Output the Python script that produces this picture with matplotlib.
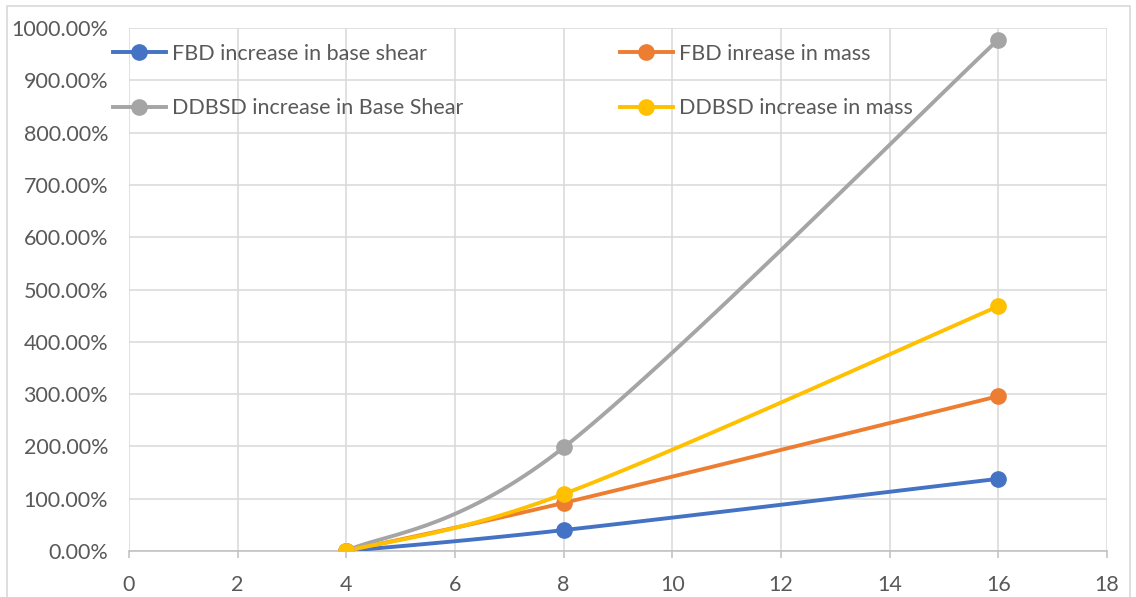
import numpy as np
import matplotlib.pyplot as plt
from matplotlib.lines import Line2D
from matplotlib.patches import Rectangle
from matplotlib.ticker import FuncFormatter, MultipleLocator

plt.rcParams['font.family'] = ['Lato', 'DejaVu Sans']

# storeys vs. percentage increase
storeys = [4, 8, 16]
fbd_base_shear = [0, 40, 138]
fbd_mass = [0, 92, 296]
ddbsd_base_shear = [0, 198, 978]
ddbsd_mass = [0, 109, 468]

series = [
    ("FBD increase in base shear", fbd_base_shear, "#4472C4"),
    ("FBD inrease in mass", fbd_mass, "#ED7D31"),
    ("DDBSD increase in Base Shear", ddbsd_base_shear, "#A5A5A5"),
    ("DDBSD increase in mass", ddbsd_mass, "#FFC000"),
]

TEXT = "#595959"
GRID = "#D9D9D9"
FS = 15.5


def smooth(xs, ys, n=40):
    # bezier segments with catmull-rom style control points (excel smoothed line)
    p = np.column_stack([xs, ys]).astype(float)
    out = [p[0]]
    for i in range(len(p) - 1):
        p0 = p[i - 1] if i > 0 else p[i]
        p1, p2 = p[i], p[i + 1]
        p3 = p[i + 2] if i + 2 < len(p) else p[i + 1]
        c1 = p1 + (p2 - p0) / 6
        c2 = p2 - (p3 - p1) / 6
        t = np.linspace(0, 1, n)[1:, None]
        seg = ((1 - t) ** 3) * p1 + 3 * ((1 - t) ** 2) * t * c1 \
            + 3 * (1 - t) * t ** 2 * c2 + t ** 3 * p2
        out.extend(seg)
    out = np.array(out)
    return out[:, 0], out[:, 1]


fig = plt.figure(figsize=(11.36, 5.97), dpi=100)
ax = fig.add_axes([129 / 1136, 1 - 551 / 597, (1107 - 129) / 1136, (551 - 28) / 597])

# chart area border
fig.add_artist(Rectangle((7 / 1136, -0.05), (1130 - 7) / 1136, 1.05 - 6 / 597,
                         transform=fig.transFigure, fill=False,
                         edgecolor=GRID, lw=1.2))

handles = []
for label, vals, color in series:
    sx, sy = smooth(storeys, vals)
    ax.plot(sx, sy, color=color, lw=2.8, solid_capstyle='round', zorder=3)
    ax.plot(storeys, vals, 'o', color=color, ms=11, zorder=4)
    handles.append(Line2D([], [], color=color, lw=2.8, marker='o', ms=11, label=label))

ax.set_xlim(0, 18)
ax.set_ylim(0, 1000)
ax.xaxis.set_major_locator(MultipleLocator(2))
ax.yaxis.set_major_locator(MultipleLocator(100))
ax.yaxis.set_major_formatter(FuncFormatter(lambda v, _: f"{v:.2f}%"))

ax.grid(True, color=GRID, lw=1.1, zorder=0)
ax.set_axisbelow(True)
for side in ['top', 'right', 'left']:
    ax.spines[side].set_visible(False)
ax.spines['bottom'].set_color("#BFBFBF")
ax.spines['bottom'].set_linewidth(1.1)
ax.tick_params(axis='x', colors="#BFBFBF", length=5, width=1.1, pad=12,
               labelsize=FS, labelcolor=TEXT)
ax.tick_params(axis='y', length=0, pad=15, labelsize=FS, labelcolor=TEXT)

leg_kw = dict(frameon=False, fontsize=FS, labelcolor=TEXT, handlelength=2.45,
              handletextpad=0.3, labelspacing=1.6, numpoints=1,
              borderaxespad=0, borderpad=0)
leg1 = ax.legend(handles=[handles[0], handles[2]], loc='upper left',
                 bbox_to_anchor=(113 / 1136, 1 - 44 / 597),
                 bbox_transform=fig.transFigure, **leg_kw)
ax.add_artist(leg1)
ax.legend(handles=[handles[1], handles[3]], loc='upper left',
          bbox_to_anchor=(620 / 1136, 1 - 44 / 597),
          bbox_transform=fig.transFigure, **leg_kw)

fig.savefig("out.png", dpi=100)
